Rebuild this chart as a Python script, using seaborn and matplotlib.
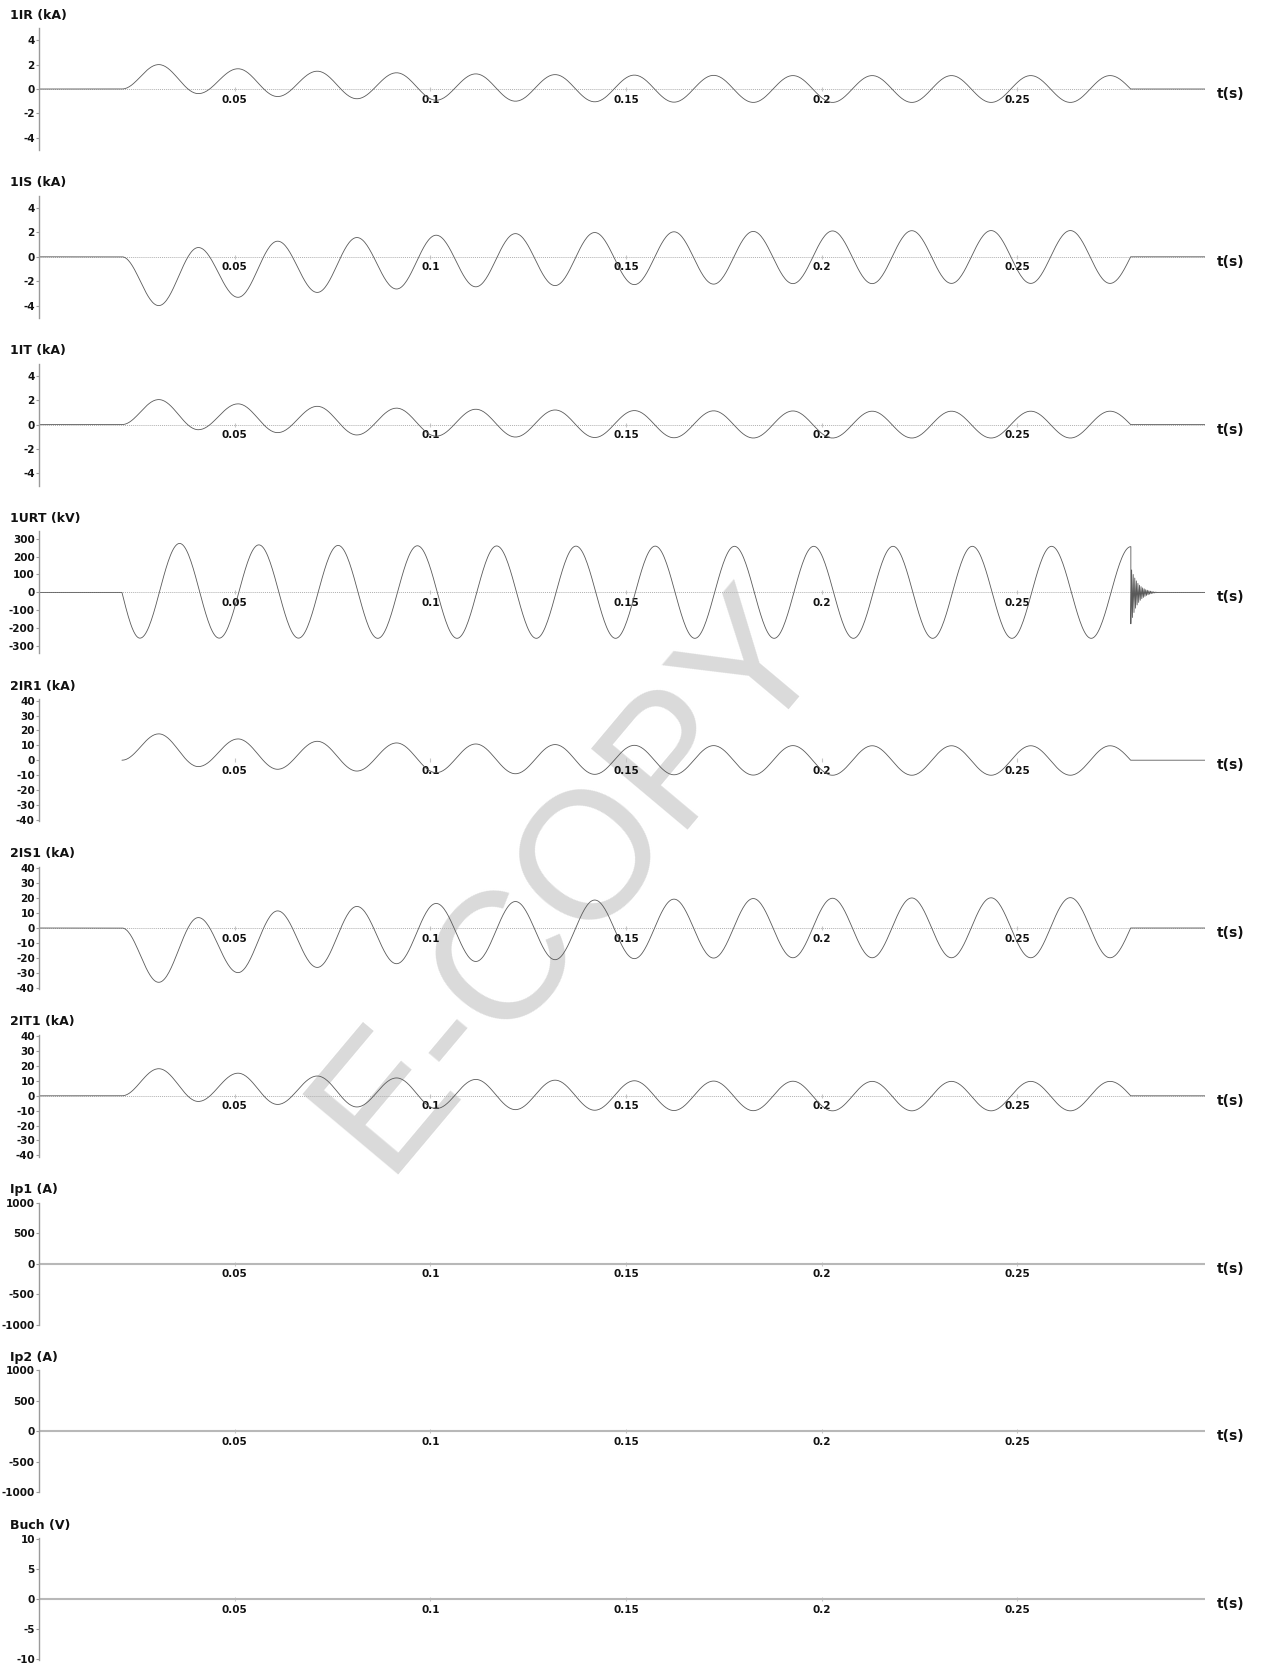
import numpy as np
import pandas as pd
import matplotlib
matplotlib.use("Agg")
import matplotlib.pyplot as plt
import seaborn as sns

# ---------------- data ----------------
T_ON = 0.0212        # fault inception (s)
T_OFF = 0.2790       # breaker opening (s)
T_XMAX = 0.298       # end of record (s)
HALF_PERIOD = 0.01013
T_FIRST_EXT_I = 0.0306   # first current extremum
T_FIRST_EXT_U = 0.0258   # first voltage extremum

x_ticks = [0.05, 0.1, 0.15, 0.2, 0.25]
x_tick_labels = ["0.05", "0.1", "0.15", "0.2", "0.25"]

# successive extrema (peak / trough) of each waveform
ir_1 = [2.0, -0.38, 1.66, -0.62, 1.46, -0.8, 1.33, -0.92, 1.24, -1.0, 1.18, -1.05, 1.14,
        -1.08, 1.12, -1.1, 1.1, -1.1, 1.1, -1.1, 1.1, -1.1, 1.1, -1.1, 1.1]
is_1 = [-4.0, 0.76, -3.32, 1.28, -2.92, 1.58, -2.64, 1.77, -2.46, 1.9, -2.36, 1.99, -2.28,
        2.05, -2.24, 2.08, -2.2, 2.12, -2.2, 2.14, -2.18, 2.15, -2.18, 2.15, -2.18]
it_1 = [2.05, -0.42, 1.7, -0.66, 1.5, -0.85, 1.35, -0.95, 1.26, -1.02, 1.2, -1.06, 1.15,
        -1.08, 1.13, -1.1, 1.12, -1.1, 1.1, -1.1, 1.1, -1.1, 1.1, -1.1, 1.1]
urt_1 = [-255, 273, -255, 265, -255, 262, -256, 260, -256, 259, -256, 258, -256, 258, -256,
         257, -256, 257, -256, 257, -256, 257, -256, 257, -256, 255]
urt_ring = [-175, 125, -140, 100, -112, 80, -88, 64, -70, 50, -56, 40, -44, 32, -35, 25,
            -28, 20, -22, 15, -17, 12, -13, 9, -10, 7, -7, 5, -5, 3, -3, 2, -2, 1, -1, 0]
RING_DT = 0.0002
ir1_2 = [17.7, -4.3, 14.3, -6.1, 12.7, -7.3, 11.6, -8.4, 10.9, -9.1, 10.5, -9.5, 10.0,
         -9.8, 9.8, -10.0, 9.8, -10.1, 9.7, -10.1, 9.7, -10.1, 9.7, -10.1, 9.7]
is1_2 = [-36.5, 7.0, -30.0, 11.5, -26.5, 14.5, -24.0, 16.5, -22.5, 17.8, -21.3, 18.8, -20.6,
         19.4, -20.2, 19.8, -20.0, 20.0, -20.0, 20.2, -20.0, 20.3, -20.0, 20.4, -20.0]
it1_2 = [18.2, -3.8, 15.2, -5.8, 13.3, -7.5, 12.0, -8.6, 11.0, -9.3, 10.5, -9.7, 10.1,
         -9.9, 9.9, -10.0, 9.8, -10.1, 9.7, -10.1, 9.7, -10.1, 9.7, -10.1, 9.7]

titles = ["1IR (kA)", "1IS (kA)", "1IT (kA)", "1URT (kV)", "2IR1 (kA)", "2IS1 (kA)",
          "2IT1 (kA)", "Ip1 (A)", "Ip2 (A)", "Buch (V)"]
y_limits = [5, 5, 5, 340, 41, 41, 41, 1000, 1000, 10.2]
y_ticks = [[-4, -2, 0, 2, 4], [-4, -2, 0, 2, 4], [-4, -2, 0, 2, 4],
           [-300, -200, -100, 0, 100, 200, 300],
           list(range(-40, 41, 10)), list(range(-40, 41, 10)), list(range(-40, 41, 10)),
           [-1000, -500, 0, 500, 1000], [-1000, -500, 0, 500, 1000], [-10, -5, 0, 5, 10]]


# ---------------- waveform construction ----------------
def cos_seg(t0, t1, y0, y1, n=36):
    s = np.linspace(0, 1, n)
    return t0 + (t1 - t0) * s, y0 + (y1 - y0) * (1 - np.cos(np.pi * s)) / 2


def current_wave(ext, pre=True):
    times = T_FIRST_EXT_I + HALF_PERIOD * np.arange(len(ext))
    ts, ys = [], []
    if pre:
        ts.append(np.array([0.0, T_ON])); ys.append(np.array([0.0, 0.0]))
    t, y = cos_seg(T_ON, times[0], 0.0, ext[0]); ts.append(t); ys.append(y)
    for i in range(len(ext) - 1):
        t, y = cos_seg(times[i], times[i + 1], ext[i], ext[i + 1]); ts.append(t); ys.append(y)
    s = np.linspace(0, 1, 24)
    ts.append(times[-1] + (T_OFF - times[-1]) * s); ys.append(ext[-1] * np.cos(np.pi / 2 * s))
    ts.append(np.array([T_OFF, T_XMAX])); ys.append(np.array([0.0, 0.0]))
    return np.concatenate(ts), np.concatenate(ys)


def voltage_wave(ext, ring):
    times = T_FIRST_EXT_U + HALF_PERIOD * np.arange(len(ext))
    ts = [np.array([0.0, T_ON])]; ys = [np.array([0.0, 0.0])]
    s = np.linspace(0, 1, 24)
    ts.append(T_ON + (times[0] - T_ON) * s); ys.append(ext[0] * np.sin(np.pi / 2 * s))
    for i in range(len(ext) - 1):
        t, y = cos_seg(times[i], times[i + 1], ext[i], ext[i + 1]); ts.append(t); ys.append(y)
    ts.append(times[-1] + RING_DT * np.arange(len(ring))); ys.append(np.array(ring, float))
    t_end_ring = times[-1] + RING_DT * (len(ring) - 1)
    ts.append(np.array([t_end_ring, T_XMAX])); ys.append(np.array([0.0, 0.0]))
    return np.concatenate(ts), np.concatenate(ys)


zero_t = np.array([0.0, T_XMAX])
zero_y = np.array([0.0, 0.0])
signals = [
    current_wave(ir_1), current_wave(is_1), current_wave(it_1),
    voltage_wave(urt_1, urt_ring),
    current_wave(ir1_2, pre=False), current_wave(is1_2), current_wave(it1_2),
    (zero_t, zero_y), (zero_t, zero_y), (zero_t, zero_y),
]

# ---------------- figure ----------------
sns.set_theme(style="white")
plt.rcParams["font.family"] = ["DejaVu Sans"]

W, H = 1263, 1666
fig = plt.figure(figsize=(W / 100, H / 100), dpi=100)
fig.patch.set_facecolor("white")

# watermark
fig.text(570 / W, 1 - 880 / H, "E-COPY", rotation=50, fontsize=130, color="#dadada",
         ha="center", va="center", family="Liberation Sans", zorder=-10)

X_LEFT, X_RIGHT = 39, 1205
HALF_H = 61
for i in range(10):
    zc = 89 + 167.8 * i
    ax = fig.add_axes([X_LEFT / W, 1 - (zc + HALF_H) / H, (X_RIGHT - X_LEFT) / W, 2 * HALF_H / H])
    ax.set_facecolor("none")
    t, y = signals[i]
    df = pd.DataFrame({"t": t, "v": y})
    if i != 4:
        ax.axhline(0, color="#b0b0b0", lw=0.7, ls=(0, (1, 1)), zorder=1)
    if i >= 7:
        sns.lineplot(data=df, x="t", y="v", ax=ax, color="#b8b8b8", linewidth=1.5,
                     estimator=None, sort=False, zorder=2)
    else:
        sns.lineplot(data=df, x="t", y="v", ax=ax, color="#5a5a5a", linewidth=0.6,
                     estimator=None, sort=False, zorder=2)
    ax.set_xlim(0, T_XMAX)
    ax.set_ylim(-y_limits[i], y_limits[i])
    ax.set_xlabel(""); ax.set_ylabel("")
    for side in ["top", "right", "bottom"]:
        ax.spines[side].set_visible(False)
    ax.spines["left"].set_color("#9a9a9a")
    ax.spines["left"].set_linewidth(1.0)
    ax.spines["bottom"].set_position(("data", 0))
    ax.set_yticks(y_ticks[i])
    ax.set_yticklabels([str(v) for v in y_ticks[i]])
    ax.set_xticks(x_ticks)
    ax.set_xticklabels(x_tick_labels)
    ax.tick_params(axis="y", direction="out", length=2, width=0.8, color="#9a9a9a",
                   labelsize=7.5, pad=1, labelcolor="#111111", left=True)
    ax.tick_params(axis="x", direction="inout", length=3, width=0.8, color="#c8c8c8",
                   labelsize=7.5, pad=2.5, labelcolor="#111111", bottom=True)
    for lab in ax.get_yticklabels() + ax.get_xticklabels():
        lab.set_fontweight("bold")
    ax.grid(False)

    fig.text(10 / W, 1 - (zc - 74) / H, titles[i], fontsize=9, fontweight="bold",
             color="#111111", ha="left", va="center")
    fig.text(1231 / W, 1 - (zc + 5) / H, "t(s)", fontsize=10, fontweight="bold",
             color="#111111", ha="center", va="center")

fig.savefig("out.png", dpi=100, facecolor="white")
